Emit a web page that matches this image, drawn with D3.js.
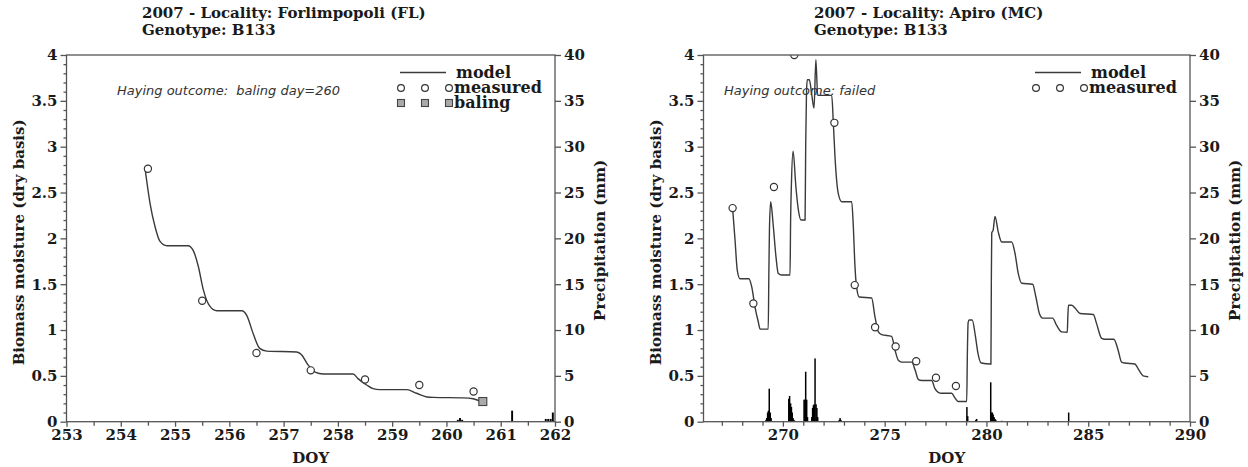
<!DOCTYPE html>
<html>
<head>
<meta charset="utf-8">
<script src="https://cdn.jsdelivr.net/npm/d3@7"></script>
<style>
  html, body { margin: 0; padding: 0; background: #fff; }
  svg text { fill: #1a1a1a; }
</style>
</head>
<body>
<svg id="chart" width="1248" height="467"></svg>
<script>
// ---- Forlimpopoli (FL): model curve [DOY, moisture] ----
const flModel = [[254.45,2.75],[254.54,2.38],[254.63,2.13],[254.72,1.97],[254.85,1.92],[255.24,1.92],[255.34,1.86],[255.43,1.69],[255.52,1.44],[255.64,1.26],[255.77,1.21],[256.23,1.21],[256.32,1.16],[256.44,0.96],[256.56,0.80],[256.69,0.77],[257.24,0.76],[257.33,0.73],[257.45,0.62],[257.58,0.54],[257.73,0.52],[258.28,0.52],[258.37,0.47],[258.53,0.40],[258.65,0.36],[258.77,0.35],[259.27,0.35],[259.45,0.31],[259.64,0.27],[259.76,0.265],[260.31,0.26],[260.49,0.25],[260.67,0.21]];
const flMeasDoy = [254.5, 255.5, 256.5, 257.5, 258.5, 259.5, 260.5];
const flMeasVal = [2.76, 1.32, 0.75, 0.56, 0.46, 0.40, 0.33];
const flBaling = [[260.67, 0.22]];
// hourly rain [DOY, mm]
const flRain = [[260.21,0.2],[260.25,0.4],[260.29,0.2],[261.21,1.2],[261.83,0.3],[261.875,0.3],[261.92,0.3],[261.96,1.0]];

// ---- Apiro (MC) ----
const mcModel = [[267.53,2.33],[267.65,1.98],[267.76,1.65],[267.89,1.56],[268.33,1.56],[268.47,1.47],[268.63,1.25],[268.79,1.09],[268.88,1.01],[269.28,1.01],[269.31,1.6],[269.34,2.1],[269.40,2.40],[269.53,2.13],[269.66,1.80],[269.77,1.62],[269.94,1.60],[270.35,1.60],[270.38,2.2],[270.42,2.6],[270.50,2.95],[270.64,2.56],[270.76,2.31],[270.89,2.20],[271.09,2.20],[271.12,3.0],[271.16,3.6],[271.2,3.73],[271.3,3.73],[271.41,3.58],[271.53,3.42],[271.62,3.95],[271.71,3.56],[271.9,3.56],[272.4,3.56],[272.48,3.25],[272.56,2.89],[272.72,2.49],[272.89,2.40],[273.38,2.40],[273.46,2.13],[273.54,1.70],[273.62,1.47],[273.75,1.36],[274.36,1.35],[274.52,1.15],[274.69,0.98],[274.85,0.95],[275.34,0.93],[275.51,0.78],[275.67,0.67],[275.84,0.65],[276.33,0.65],[276.5,0.56],[276.66,0.46],[276.82,0.45],[277.31,0.45],[277.47,0.36],[277.63,0.32],[277.8,0.31],[278.29,0.31],[278.45,0.26],[278.61,0.22],[279.03,0.22],[279.06,0.7],[279.1,1.08],[279.15,1.11],[279.3,1.11],[279.46,0.93],[279.58,0.75],[279.74,0.64],[280.22,0.63],[280.24,1.5],[280.26,2.06],[280.33,2.09],[280.42,2.24],[280.58,2.07],[280.75,1.96],[281.24,1.96],[281.4,1.84],[281.56,1.62],[281.73,1.51],[282.27,1.50],[282.43,1.36],[282.6,1.18],[282.76,1.13],[283.25,1.13],[283.45,1.05],[283.69,0.98],[283.97,0.975],[284.0,1.15],[284.03,1.27],[284.19,1.27],[284.35,1.24],[284.6,1.18],[285.25,1.17],[285.41,1.07],[285.66,0.91],[285.82,0.90],[286.26,0.90],[286.47,0.78],[286.64,0.65],[286.8,0.64],[287.29,0.63],[287.5,0.56],[287.7,0.50],[287.95,0.49]];
const mcMeasDoy = [267.53, 268.55, 269.56, 270.56, 272.53, 273.53, 274.53, 275.54, 276.55, 277.52, 278.5];
const mcMeasVal = [2.33, 1.29, 2.56, 4.0, 3.26, 1.49, 1.03, 0.82, 0.66, 0.48, 0.39];
const mcRain = [
  [269.17,0.2],[269.21,0.4],[269.25,1.0],[269.29,1.2],[269.33,3.6],[269.38,1.0],[269.42,0.4],
  [270.29,2.5],[270.33,2.8],[270.38,2.0],[270.42,1.6],[270.46,1.0],[270.5,0.4],[270.54,0.2],[270.58,0.1],
  [271.04,2.4],[271.08,2.4],[271.12,5.45],[271.17,2.4],[271.21,0.5],
  [271.42,0.5],[271.46,1.5],[271.5,1.8],[271.54,1.9],[271.58,6.9],[271.63,1.9],[271.67,1.5],[271.71,0.5],
  [272.77,0.2],[272.81,0.4],[272.85,0.2],
  [279.04,1.6],[279.08,0.6],[279.48,0.2],[279.52,0.3],
  [280.21,4.3],[280.25,1.0],[280.29,1.0],[280.33,0.8],[280.38,0.5],[280.42,0.3],[280.46,0.2],[280.75,0.1],
  [284.04,1.0]
];

// tick values
const flMajorX = d3.range(253, 262.001, 1);
const flMinorX = d3.range(253.5, 262, 1);
const mcMajorX = [270, 275, 280, 285, 290];
const mcMinorX = d3.range(267, 290, 1).filter(d => d % 5 !== 0);
const moistMajor = d3.range(0, 4.001, 0.5);
const moistMinor = d3.range(0, 40.5, 1).map(d => d / 10).filter(d => Math.round(d * 10) % 5 !== 0);
const rainMajor = d3.range(0, 40.1, 5);

const svg = d3.select("#chart");
svg.append("rect").attr("width", 1248).attr("height", 467).attr("fill", "#fff");

const SERIF = "'DejaVu Serif', serif";
const AXIS_COLOR = "#555";
const CURVE_COLOR = "#3a3a3a";

function drawPanel(cfg) {
  const top = 55, bottom = 421.7;
  const x = d3.scaleLinear().domain(cfg.xDomain).range([cfg.left, cfg.right]);
  const y = d3.scaleLinear().domain([0, 4]).range([bottom, top]);
  const yRain = d3.scaleLinear().domain([0, 40]).range([bottom, top]);
  const g = svg.append("g");

  const clipId = "clip-" + cfg.id;
  svg.append("clipPath").attr("id", clipId)
    .append("rect").attr("x", cfg.left).attr("y", top)
    .attr("width", cfg.right - cfg.left).attr("height", bottom - top);

  // titles
  const title = g.append("text").attr("x", cfg.titleX).attr("y", 18)
    .style("font-family", SERIF).style("font-weight", "bold").style("font-size", "15px");
  title.append("tspan").attr("x", cfg.titleX).attr("dy", 0).text(cfg.title1);
  title.append("tspan").attr("x", cfg.titleX).attr("dy", 17).text(cfg.title2);

  // note
  g.append("text").attr("x", cfg.noteX).attr("y", 95)
    .style("font-family", "'DejaVu Sans', sans-serif").style("font-style", "italic")
    .style("font-size", "13px").style("fill", "#333").style("white-space", "pre")
    .text(cfg.note);

  const plot = g.append("g").attr("clip-path", `url(#${clipId})`);

  // rain bars
  const hour = x(cfg.xDomain[0] + 1 / 24) - x(cfg.xDomain[0]);
  const bw = Math.max(1.5, hour * 0.85);
  plot.selectAll("rect.rain").data(cfg.rain).join("rect")
    .attr("class", "rain")
    .attr("x", d => x(d[0]) - bw / 2)
    .attr("width", bw)
    .attr("y", d => yRain(d[1]))
    .attr("height", d => yRain(0) - yRain(d[1]))
    .attr("fill", "#000");

  // model curve
  const line = d3.line().x(d => x(d[0])).y(d => y(d[1])).curve(d3.curveMonotoneX);
  plot.append("path").datum(cfg.model)
    .attr("d", line).attr("fill", "none")
    .attr("stroke", CURVE_COLOR).attr("stroke-width", 1.4);

  // measured points
  const meas = cfg.measDoy.map((d, i) => [d, cfg.measVal[i]]);
  plot.selectAll("circle.meas").data(meas).join("circle")
    .attr("class", "meas")
    .attr("cx", d => x(d[0])).attr("cy", d => y(d[1])).attr("r", 3.6)
    .attr("fill", "#fff").attr("stroke", "#333").attr("stroke-width", 1.2);

  // baling points
  if (cfg.baling) {
    plot.selectAll("rect.bal").data(cfg.baling).join("rect")
      .attr("class", "bal")
      .attr("x", d => x(d[0]) - 4).attr("y", d => y(d[1]) - 4)
      .attr("width", 8).attr("height", 8)
      .attr("fill", "#aaa").attr("stroke", "#444").attr("stroke-width", 1.1);
  }

  // frame
  g.append("rect").attr("x", cfg.left).attr("y", top)
    .attr("width", cfg.right - cfg.left).attr("height", bottom - top)
    .attr("fill", "none").attr("stroke", AXIS_COLOR).attr("stroke-width", 1.3);

  const styleAxis = sel => {
    sel.select(".domain").remove();
    sel.selectAll("line").attr("stroke", AXIS_COLOR).attr("stroke-width", 1.3);
    sel.selectAll("text").style("font-family", SERIF).style("font-weight", "bold")
      .style("font-size", "15px").style("fill", "#1a1a1a");
  };

  // x axis
  g.append("g").attr("transform", `translate(0,${bottom})`)
    .call(d3.axisBottom(x).tickValues(cfg.majorX).tickSize(5).tickPadding(3).tickFormat(d3.format("d")))
    .call(styleAxis);
  g.append("g").attr("transform", `translate(0,${bottom})`)
    .call(d3.axisBottom(x).tickValues(cfg.minorX).tickSize(4).tickFormat(""))
    .call(styleAxis);

  // left moisture axis
  g.append("g").attr("transform", `translate(${cfg.left},0)`)
    .call(d3.axisLeft(y).tickValues(moistMajor).tickSize(6).tickPadding(3).tickFormat(d3.format("")))
    .call(styleAxis);
  g.append("g").attr("transform", `translate(${cfg.left},0)`)
    .call(d3.axisLeft(y).tickValues(moistMinor).tickSize(3).tickFormat(""))
    .call(styleAxis);

  // right precipitation axis
  g.append("g").attr("transform", `translate(${cfg.right},0)`)
    .call(d3.axisRight(yRain).tickValues(rainMajor).tickSize(6).tickPadding(3).tickFormat(d3.format("d")))
    .call(styleAxis);

  // axis titles
  const axTitle = s => s.style("font-family", SERIF).style("font-weight", "bold").style("font-size", "15px");
  g.append("text").attr("x", (cfg.left + cfg.right) / 2).attr("y", 463)
    .attr("text-anchor", "middle").text("DOY").call(axTitle);
  g.append("text").attr("transform", `translate(${cfg.left - 43},${(top + bottom) / 2 + 4}) rotate(-90)`)
    .attr("text-anchor", "middle").text("Biomass moisture (dry basis)").call(axTitle);
  g.append("text").attr("transform", `translate(${cfg.right + 50},${(top + bottom) / 2 + 2}) rotate(-90)`)
    .attr("text-anchor", "middle").text("Precipitation (mm)").call(axTitle);

  // legend
  const lx = cfg.legendX;
  const legText = s => s.style("font-family", SERIF).style("font-weight", "bold").style("font-size", "16px");
  g.append("line").attr("x1", lx).attr("x2", lx + 46).attr("y1", 72.5).attr("y2", 72.5)
    .attr("stroke", CURVE_COLOR).attr("stroke-width", 1.4);
  g.append("text").attr("x", lx + 56).attr("y", 78).text("model").call(legText);
  [0, 24, 48].forEach(o => {
    g.append("circle").attr("cx", lx + 1 + o).attr("cy", 88).attr("r", 3.4)
      .attr("fill", "#fff").attr("stroke", "#333").attr("stroke-width", 1.2);
  });
  g.append("text").attr("x", lx + 54).attr("y", 93).text("measured").call(legText);
  if (cfg.baling) {
    [0, 24, 48].forEach(o => {
      g.append("rect").attr("x", lx + 1 + o - 3.5).attr("y", 103 - 3.5).attr("width", 7).attr("height", 7)
        .attr("fill", "#aaa").attr("stroke", "#444").attr("stroke-width", 1.1);
    });
    g.append("text").attr("x", lx + 54).attr("y", 108).text("baling").call(legText);
  }
}

drawPanel({
  id: "fl", left: 66.5, right: 555, xDomain: [253, 262],
  majorX: flMajorX, minorX: flMinorX,
  model: flModel, measDoy: flMeasDoy, measVal: flMeasVal, baling: flBaling, rain: flRain,
  title1: "2007 - Locality: Forlimpopoli (FL)", title2: "Genotype: B133", titleX: 142,
  note: "Haying outcome:  baling day=260", noteX: 117, legendX: 400
});

drawPanel({
  id: "mc", left: 703.5, right: 1190, xDomain: [266.1, 290],
  majorX: mcMajorX, minorX: mcMinorX,
  model: mcModel, measDoy: mcMeasDoy, measVal: mcMeasVal, baling: null, rain: mcRain,
  title1: "2007 - Locality: Apiro (MC)", title2: "Genotype: B133", titleX: 814,
  note: "Haying outcome: failed", noteX: 724, legendX: 1035
});
</script>
</body>
</html>
